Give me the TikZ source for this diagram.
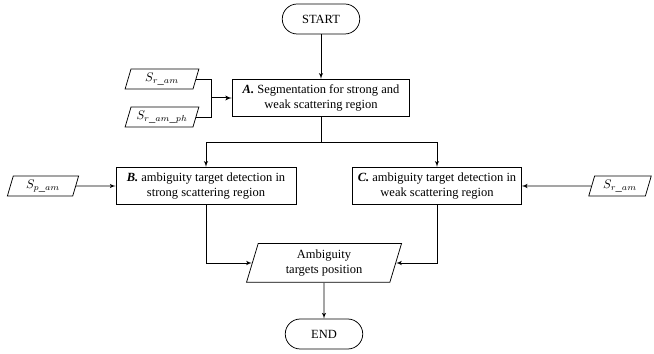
\documentclass[tikz,border=0pt]{standalone}
\usepackage{fontspec}
\setmainfont{Liberation Serif}
\usepackage{tikz}
\usetikzlibrary{positioning, shapes.geometric, arrows, calc}

\tikzset{
  term/.style={draw, rounded corners=12pt, minimum width=62pt, minimum height=24pt, inner sep=2pt},
  proc/.style={draw, align=center, minimum height=30pt, inner sep=2pt},
  io/.style={draw, trapezium, trapezium left angle=68, trapezium right angle=112,
    trapezium stretches body, align=center, inner sep=1pt},
  flow/.style={->, line width=0.6pt}
}

\begin{document}
\begin{tikzpicture}[x=0.8pt, y=-0.8pt, >=latex', line width=0.6pt]
            \useasboundingbox (0,0) rectangle (654,354);

            % Terminals
            \node[term] (start) at (321,19) {START};
            \node[term] (stop) at (324,334) {END};

            % Processes
            \node[proc, minimum width=142pt] (segA) at (321,98)
                {\textbf{\textit{A.}} Segmentation for strong and\\weak scattering region};
            \node[proc, minimum width=144pt] (detB) at (206,186)
                {\textbf{\textit{B.}} ambiguity target detection in\\strong scattering region};
            \node[proc, minimum width=135pt] (detC) at (437,186)
                {\textbf{\textit{C.}} ambiguity target detection in\\weak scattering region};

            % Inputs and output
            \node[io, minimum width=59pt, minimum height=16pt] (srin) at (162,79) {$S_{r\_am}$};
            \node[io, minimum width=59pt, minimum height=16pt] (srphin) at (162,117) {$S_{r\_am\_ph}$};
            \node[io, minimum width=57pt, minimum height=16pt] (spin) at (43,186) {$S_{p\_am}$};
            \node[io, minimum width=50pt, minimum height=16pt] (srin2) at (620,186) {$S_{r\_am}$};
            \node[io, minimum width=124pt, minimum height=31pt] (pos) at (324,263)
                {Ambiguity\\targets position};

            % Junctions
            \coordinate (jA) at (211,98);
            \coordinate (split) at (321,142);

            % Connections
            \draw[flow] (start) -- (segA);
            \draw (srin.east) -| (jA);
            \draw (srphin.east) -| (jA);
            \draw[flow, thick] (jA) -- (segA);
            \draw (segA) -- (split);
            \draw[flow] (split) -| (detB);
            \draw[flow] (split) -| (detC);
            \draw[flow] (spin) -- (detB);
            \draw[flow] (srin2) -- (detC);
            \draw[flow] (detB) |- (pos);
            \draw[flow] (detC) |- (pos);
            \draw[flow] (pos) -- (stop);

        \end{tikzpicture}
\end{document}
